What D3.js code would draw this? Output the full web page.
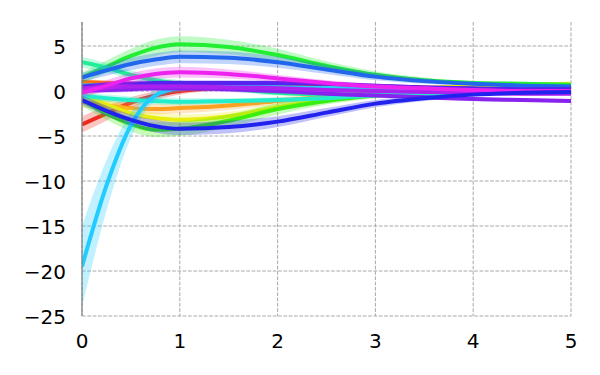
<!DOCTYPE html>
<html>
<head>
<meta charset="utf-8">
<script src="https://cdn.jsdelivr.net/npm/d3@7"></script>
<style>
  body { margin: 0; background: #fff; }
</style>
</head>
<body>
<svg width="600" height="375"></svg>
<script>
// sample positions shared by every curve
var xs = [0, 0.25, 0.5, 0.75, 1, 1.5, 2, 2.5, 3, 3.5, 4, 4.5, 5];

var xTicks = [0, 1, 2, 3, 4, 5];
var yTicks = [5, 0, -5, -10, -15, -20, -25];

// series: colour, mean values at xs, band half-widths at xs
var names  = ["red", "orange", "darkorange", "yellow", "lime", "green", "spring", "teal", "cyan", "sky", "blue", "indigo", "violet", "purple", "magenta", "darkblue"];
var colors = ["#ee2a1e", "#ffa020", "#ff7010", "#e8ee10", "#3aee10", "#22ee33", "#22ee99", "#22eecc", "#22e8ee", "#22ccff", "#2266ee", "#5522ee", "#8822ee", "#aa22ee", "#ee22ee", "#2222ee"];
var means = [
  [-3.7, -2.5, -1.3, -0.5, 0.0, 0.4, 0.5, 0.5, 0.5, 0.4, 0.3, 0.3, 0.3],
  [-1.2, -1.6, -1.9, -2.0, -1.9, -1.6, -1.1, -0.6, -0.2, 0.1, 0.2, 0.3, 0.4],
  [1.0, 0.9, 0.8, 0.7, 0.6, 0.5, 0.4, 0.4, 0.3, 0.3, 0.3, 0.3, 0.3],
  [-0.3, -1.5, -2.5, -3.0, -3.2, -2.8, -1.8, -0.9, -0.2, 0.3, 0.6, 0.7, 0.8],
  [-1.0, -2.5, -3.7, -4.3, -4.2, -3.3, -2.0, -1.1, -0.5, -0.1, 0.1, 0.2, 0.2],
  [1.5, 2.7, 3.9, 4.8, 5.2, 4.9, 4.0, 2.8, 1.8, 1.2, 0.9, 0.8, 0.7],
  [3.2, 2.6, 1.8, 1.2, 0.8, 0.3, -0.2, -0.4, -0.4, -0.3, -0.2, -0.1, 0.0],
  [-0.5, -0.8, -1.0, -1.1, -1.2, -1.1, -1.0, -0.8, -0.5, -0.3, -0.2, -0.1, 0.0],
  [0.6, 0.6, 0.5, 0.5, 0.5, 0.4, 0.4, 0.3, 0.3, 0.2, 0.2, 0.2, 0.2],
  [-19.5, -10.5, -3.8, -0.5, 0.3, 0.5, 0.4, 0.3, 0.2, 0.2, 0.2, 0.2, 0.2],
  [1.5, 2.3, 3.0, 3.5, 3.8, 3.7, 3.2, 2.4, 1.6, 1.1, 0.8, 0.6, 0.5],
  [0.5, 0.7, 0.8, 0.9, 0.9, 0.9, 0.9, 0.8, 0.6, 0.4, 0.3, 0.2, 0.2],
  [0.0, 0.1, 0.2, 0.3, 0.3, 0.2, 0.0, -0.3, -0.5, -0.7, -0.9, -1.0, -1.1],
  [0.3, 0.4, 0.5, 0.5, 0.5, 0.4, 0.3, 0.1, 0.0, -0.1, -0.2, -0.3, -0.3],
  [-0.2, 0.6, 1.4, 1.9, 2.1, 1.9, 1.4, 0.9, 0.5, 0.3, 0.1, 0.0, 0.0],
  [-1.0, -2.2, -3.2, -3.9, -4.2, -4.0, -3.4, -2.4, -1.4, -0.8, -0.4, -0.2, -0.1]
];
var spreads = [
  [0.9, 0.8, 0.6, 0.5, 0.4, 0.3, 0.3, 0.2, 0.2, 0.2, 0.2, 0.2, 0.2],
  [0.6, 0.6, 0.6, 0.6, 0.6, 0.5, 0.4, 0.3, 0.3, 0.2, 0.2, 0.2, 0.2],
  [0.3, 0.3, 0.3, 0.3, 0.3, 0.2, 0.2, 0.2, 0.2, 0.2, 0.2, 0.2, 0.2],
  [0.6, 0.6, 0.6, 0.6, 0.6, 0.5, 0.4, 0.3, 0.3, 0.2, 0.2, 0.2, 0.2],
  [0.7, 0.7, 0.8, 0.8, 0.8, 0.7, 0.6, 0.4, 0.3, 0.2, 0.2, 0.2, 0.2],
  [0.6, 0.7, 0.8, 0.9, 0.9, 0.8, 0.7, 0.5, 0.4, 0.3, 0.2, 0.2, 0.2],
  [0.6, 0.5, 0.5, 0.4, 0.4, 0.3, 0.3, 0.2, 0.2, 0.2, 0.2, 0.2, 0.2],
  [0.4, 0.4, 0.4, 0.4, 0.4, 0.3, 0.3, 0.2, 0.2, 0.2, 0.2, 0.2, 0.2],
  [0.3, 0.3, 0.3, 0.3, 0.3, 0.2, 0.2, 0.2, 0.2, 0.2, 0.2, 0.2, 0.2],
  [4.5, 2.8, 1.4, 0.6, 0.4, 0.3, 0.3, 0.2, 0.2, 0.2, 0.2, 0.2, 0.2],
  [0.5, 0.6, 0.7, 0.7, 0.7, 0.7, 0.6, 0.5, 0.4, 0.3, 0.2, 0.2, 0.2],
  [0.3, 0.3, 0.3, 0.3, 0.3, 0.3, 0.3, 0.2, 0.2, 0.2, 0.2, 0.2, 0.2],
  [0.3, 0.3, 0.3, 0.3, 0.3, 0.3, 0.3, 0.2, 0.2, 0.2, 0.2, 0.2, 0.2],
  [0.3, 0.3, 0.3, 0.3, 0.3, 0.3, 0.3, 0.2, 0.2, 0.2, 0.2, 0.2, 0.2],
  [0.5, 0.6, 0.6, 0.6, 0.6, 0.5, 0.4, 0.3, 0.3, 0.2, 0.2, 0.2, 0.2],
  [0.5, 0.6, 0.6, 0.7, 0.7, 0.7, 0.6, 0.5, 0.4, 0.3, 0.2, 0.2, 0.2]
];

var svg = d3.select("svg"),
    margin = {top: 22, right: 29, bottom: 59, left: 82},
    width = 600 - margin.left - margin.right,
    height = 375 - margin.top - margin.bottom;

var x = d3.scaleLinear().domain([0, 5]).range([0, width]);
var y = d3.scaleLinear().domain([-25, 7.67]).range([height, 0]);

var g = svg.append("g")
    .attr("transform", "translate(" + margin.left + "," + margin.top + ")");

// dashed grid
g.append("g")
  .selectAll("line")
  .data(xTicks)
  .enter().append("line")
    .attr("x1", function(d) { return x(d); })
    .attr("x2", function(d) { return x(d); })
    .attr("y1", 0).attr("y2", height)
    .attr("stroke", "#a8a8a8").attr("stroke-width", 1)
    .attr("stroke-dasharray", "3.7,1.6");

g.append("g")
  .selectAll("line")
  .data(yTicks)
  .enter().append("line")
    .attr("x1", 0).attr("x2", width)
    .attr("y1", function(d) { return y(d); })
    .attr("y2", function(d) { return y(d); })
    .attr("stroke", "#a8a8a8").attr("stroke-width", 1)
    .attr("stroke-dasharray", "3.7,1.6");

var series = names.map(function(n, i) {
  return {
    name: n,
    color: colors[i],
    pts: xs.map(function(xv, j) {
      return {x: xv, y: means[i][j], s: spreads[i][j]};
    })
  };
});

var band = d3.area()
    .curve(d3.curveMonotoneX)
    .x(function(d) { return x(d.x); })
    .y0(function(d) { return y(d.y - d.s); })
    .y1(function(d) { return y(d.y + d.s); });

var line = d3.line()
    .curve(d3.curveMonotoneX)
    .x(function(d) { return x(d.x); })
    .y(function(d) { return y(d.y); });

svg.append("clipPath").attr("id", "clip")
  .append("rect").attr("width", width).attr("height", height);

var plot = g.append("g").attr("clip-path", "url(#clip)");

series.forEach(function(s) {
  plot.append("path")
    .attr("d", band(s.pts))
    .attr("fill", s.color)
    .attr("fill-opacity", 0.28);
  plot.append("path")
    .attr("d", line(s.pts))
    .attr("fill", "none")
    .attr("stroke", s.color)
    .attr("stroke-width", 4);
});

// left spine only
g.append("line")
  .attr("x1", 0).attr("x2", 0)
  .attr("y1", 0).attr("y2", height)
  .attr("stroke", "#808080").attr("stroke-width", 1.2);

// tick labels
g.append("g")
  .selectAll("text")
  .data(xTicks)
  .enter().append("text")
    .attr("x", function(d) { return x(d); })
    .attr("y", height + 32)
    .attr("text-anchor", "middle")
    .attr("font-family", "DejaVu Sans")
    .attr("font-size", 20)
    .text(function(d) { return d; });

g.append("g")
  .selectAll("text")
  .data(yTicks)
  .enter().append("text")
    .attr("x", -16)
    .attr("y", function(d) { return y(d) + 7.5; })
    .attr("text-anchor", "end")
    .attr("font-family", "DejaVu Sans")
    .attr("font-size", 20)
    .text(function(d) { return d < 0 ? "\u2212" + Math.abs(d) : d; });
</script>
</body>
</html>
